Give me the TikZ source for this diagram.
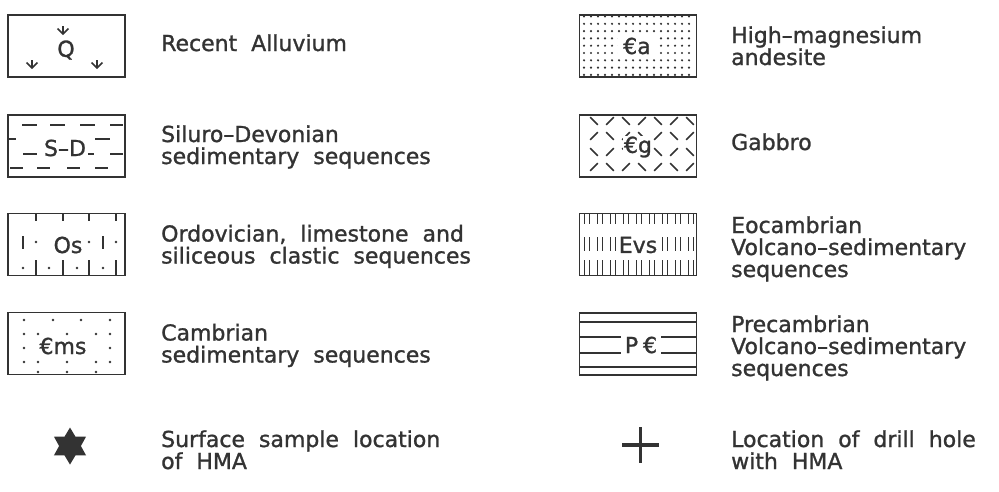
\documentclass[tikz,border=0pt]{standalone}
\usepackage{fontspec}
\setmainfont{DejaVu Sans}[WordSpace=2, FakeBold=1.2]
\usetikzlibrary{shapes.geometric}
\definecolor{ink}{HTML}{333333}

\tikzset{
  legbox/.style={draw=ink, line width=1.8pt, rectangle, minimum width=117pt, minimum height=62pt, inner sep=0pt},
  boxlabel/.style={fill=white, inner sep=1pt, text=ink},
  legtext/.style={anchor=base west, align=left, inner sep=0pt, text=ink},
  hatch/.style={draw=ink, line width=1.6pt},
}

\begin{document}
\begin{tikzpicture}[x=1pt, y=-1pt, font=\fontsize{22pt}{22pt}\selectfont]
        \useasboundingbox (0,0) rectangle (999,491);

        % recent alluvium
        \node[legbox] (alluv) at (66.5,46) {};
        \foreach \ax/\ay in {63/31, 32/65, 97/65} {
            \draw[hatch] (\ax,\ay-5) -- (\ax,\ay+3);
            \draw[hatch] (\ax-5.5,\ay-2.5) -- (\ax,\ay+3) -- (\ax+5.5,\ay-2.5);
        }
        \node[boxlabel, fill=none] (alluvlbl) at (66,50) {Q};
        \node[legtext] (alluvtxt) at (161,51) {Recent Alluvium};

        % siluro-devonian
        \node[legbox] (silur) at (66.5,146) {};
        \foreach \a/\b in {22/37,50/65,80/95,110/123} \draw[hatch] (\a,125) -- (\b,125);
        \foreach \a/\b in {8/16,95/110} \draw[hatch] (\a,139) -- (\b,139);
        \foreach \a/\b in {23/37,88/94,110/123} \draw[hatch] (\a,154) -- (\b,154);
        \foreach \a/\b in {10/23,37/50,67/80,95/108} \draw[hatch] (\a,168) -- (\b,168);
        \node[boxlabel, fill=none] (silurlbl) at (65,148) {S–D};
        \node[legtext] (silurtxt) at (161,164) {Siluro–Devonian\\sedimentary sequences};

        % ordovician
        \node[legbox] (ordov) at (66.5,244.5) {};
        \foreach \x in {36,63,89,116} {
            \draw[hatch] (\x,213) -- (\x,221);
            \draw[hatch] (\x,260) -- (\x,276);
        }
        \foreach \x in {23,103} \draw[hatch] (\x,236) -- (\x,249);
        \foreach \x in {36,89,116} \fill[ink] (\x,242) circle (1.3pt);
        \foreach \x in {23,49,77,103} \fill[ink] (\x,268) circle (1.3pt);
        \node[boxlabel, fill=none] (ordovlbl) at (68,245) {Os};
        \node[legtext] (ordovtxt) at (161,263.5) {Ordovician, limestone and\\siliceous clastic sequences};

        % cambrian
        \node[legbox] (cambr) at (66.5,343.5) {};
        \foreach \y in {320,348} \foreach \x in {24,53,81,110} \fill[ink] (\x,\y) circle (1.3pt);
        \foreach \y in {334,362} \foreach \x in {24,38,67,96,110} \fill[ink] (\x,\y) circle (1.3pt);
        \foreach \x in {38,67,96} \fill[ink] (\x,372) circle (1.3pt);
        \node[boxlabel, inner sep=0.5pt] (cambrlbl) at (63,346) {€ms};
        \node[legtext] (cambrtxt) at (161,362.5) {Cambrian\\sedimentary sequences};

        % surface sample
        \node[star, star points=6, star point ratio=1.7, minimum size=37pt, inner sep=0pt, fill=ink] (sample) at (70,446) {};
        \node[legtext] (sampletxt) at (161,469) {Surface sample location\\of HMA};

        % high-magnesium andesite
        \node[legbox] (andes) at (638,46) {};
        \foreach \y in {16.5,23.8,...,75} \foreach \x in {584,591,...,694} \fill[ink] (\x,\y) circle (1.2pt);
        \node[boxlabel, inner xsep=5pt, inner ysep=2pt] (andeslbl) at (637,46) {€a};
        \node[legtext] (andestxt) at (731,65) {High–magnesium\\andesite};

        % gabbro
        \node[legbox] (gabbro) at (638,146) {};
        \foreach \y [count=\r] in {121,136,152,167} \foreach \i in {0,...,6} {
            \pgfmathsetmacro\s{2*mod(\i+\r,2)-1}
            \draw[hatch] ({594+16*\i-3.8},{\y-3.8*\s}) -- ({594+16*\i+3.8},{\y+3.8*\s});
        }
        \node[boxlabel] (gabbrolbl) at (638,147) {€g};
        \node[legtext] (gabbrotxt) at (731,150) {Gabbro};

        % eocambrian
        \node[legbox] (eocam) at (638,244.5) {};
        \foreach \k in {0,...,8} \foreach \dx in {0,5} {
            \draw[hatch] ({584.5+13*\k+\dx},214) -- ++(0,10);
            \draw[hatch] ({584.5+13*\k+\dx},237) -- ++(0,14);
            \draw[hatch] ({584.5+13*\k+\dx},260) -- ++(0,15);
        }
        \node[boxlabel] (eocamlbl) at (638,245) {Evs};
        \node[legtext] (eocamtxt) at (731,277) {Eocambrian\\Volcano–sedimentary\\sequences};

        % precambrian
        \node[legbox] (precam) at (638,344) {};
        \foreach \y in {322,337,353,367} \draw[hatch] (580,\y) -- (696,\y);
        \node[boxlabel, inner xsep=4pt] (precamlbl) at (641,345) {P\hspace{5pt}€};
        \node[legtext] (precamtxt) at (731,376) {Precambrian\\Volcano–sedimentary\\sequences};

        % drill hole
        \coordinate (drill) at (640.5,445);
        \draw[ink, line width=3.5pt] (drill) ++(-18.5,0) -- ++(37,0);
        \draw[ink, line width=3.5pt] (drill) ++(0,-18) -- ++(0,36);
        \node[legtext] (drilltxt) at (731,469) {Location of drill hole\\with HMA};

    \end{tikzpicture}
\end{document}
